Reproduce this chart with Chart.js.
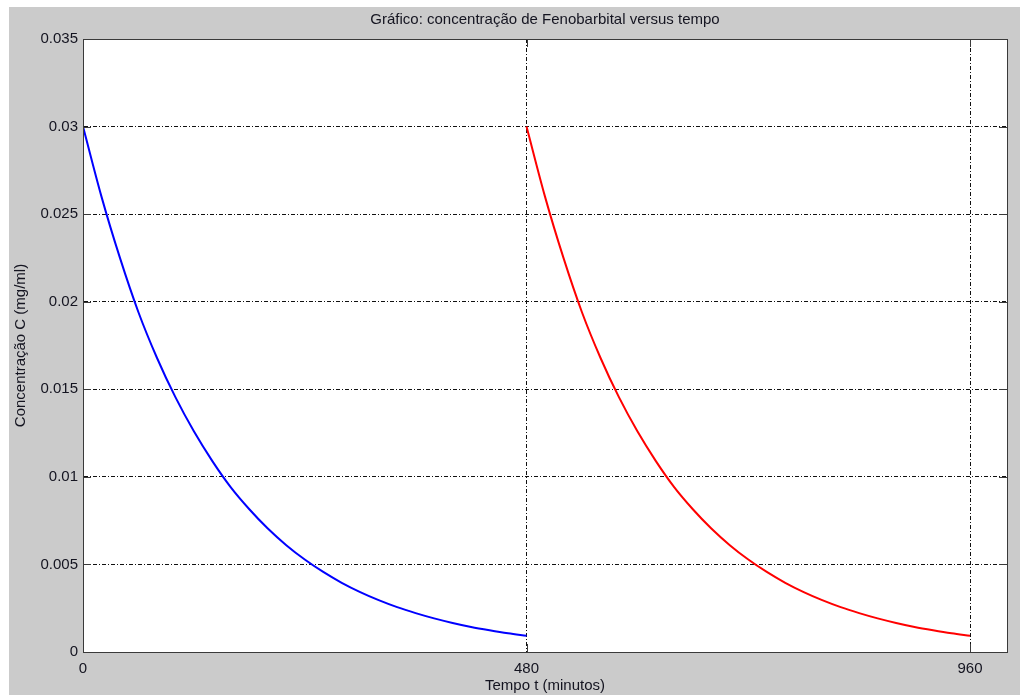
<!DOCTYPE html>
<html>
<head>
<meta charset="utf-8">
<script src="https://cdn.jsdelivr.net/npm/chart.js@4"></script>
<style>
  html, body { margin: 0; padding: 0; background: #ffffff; }
  #wrap { width: 1020px; height: 695px; position: relative; }
</style>
</head>
<body>
<div id="wrap"><canvas id="c" width="1020" height="695"></canvas></div>
<script>
// ---- data ----
const chartTitle = "Gráfico: concentração de Fenobarbital versus tempo";
const xTitle = "Tempo t (minutos)";
const yTitle = "Concentração C (mg/ml)";

const xTickValues = [0, 480, 960];
const yTickValues = [0, 0.005, 0.01, 0.015, 0.02, 0.025, 0.03, 0.035];

const timeDose1 = [0, 20, 40, 60, 80, 100, 120, 140, 160, 180, 200, 220, 240, 260, 280, 300, 320, 340, 360, 380, 400, 420, 440, 460, 480];
const concDose1 = [0.0300, 0.0260, 0.0225, 0.0194, 0.0168, 0.01455, 0.0126, 0.0109, 0.0094, 0.00815, 0.00705, 0.0061, 0.00528, 0.00457, 0.00395, 0.00342, 0.00296, 0.00256, 0.00222, 0.00192, 0.00166, 0.00143, 0.00124, 0.00107, 0.00093];

const timeDose2 = [480, 500, 520, 540, 560, 580, 600, 620, 640, 660, 680, 700, 720, 740, 760, 780, 800, 820, 840, 860, 880, 900, 920, 940, 960];
const concDose2 = [0.0300, 0.0260, 0.0225, 0.0194, 0.0168, 0.01455, 0.0126, 0.0109, 0.0094, 0.00815, 0.00705, 0.0061, 0.00528, 0.00457, 0.00395, 0.00342, 0.00296, 0.00256, 0.00222, 0.00192, 0.00166, 0.00143, 0.00124, 0.00107, 0.00093];

const FONT = "'Liberation Sans', Arial, sans-serif";
const TEXT = '#141420';
const GRID = '#111111';
const DASH = [4, 2, 1, 2];

const pts = (xs, ys) => xs.map((x, i) => ({ x: x, y: ys[i] }));

const bgPlugin = {
  id: 'bg',
  beforeDraw(chart) {
    const ctx = chart.ctx;
    ctx.save();
    ctx.fillStyle = '#ffffff';
    ctx.fillRect(0, 0, chart.width, chart.height);
    ctx.fillStyle = '#cbcbcb';
    ctx.fillRect(9, 7, chart.width - 9, chart.height - 7);
    const a = chart.chartArea;
    ctx.fillStyle = '#ffffff';
    ctx.fillRect(a.left, a.top, a.right - a.left, a.bottom - a.top);
    ctx.restore();
  },
  afterDraw(chart) {
    const ctx = chart.ctx;
    const a = chart.chartArea;
    ctx.save();
    // box
    ctx.strokeStyle = '#3a3a3a';
    ctx.lineWidth = 1;
    ctx.strokeRect(Math.round(a.left) + 0.5, Math.round(a.top) + 0.5, Math.round(a.right - a.left), Math.round(a.bottom - a.top));
    // inward tick marks
    const xs = chart.scales.x, ys = chart.scales.y;
    const tl = 8;
    ctx.beginPath();
    yTickValues.forEach(v => {
      const y = Math.round(ys.getPixelForValue(v)) + 0.5;
      ctx.moveTo(a.left, y); ctx.lineTo(a.left + tl, y);
      ctx.moveTo(a.right, y); ctx.lineTo(a.right - tl, y);
    });
    xTickValues.forEach(v => {
      const x = Math.round(xs.getPixelForValue(v)) + 0.5;
      ctx.moveTo(x, a.bottom); ctx.lineTo(x, a.bottom - tl);
      ctx.moveTo(x, a.top); ctx.lineTo(x, a.top + tl);
    });
    ctx.stroke();
    // title
    ctx.fillStyle = TEXT;
    ctx.font = '15px ' + FONT;
    ctx.textAlign = 'center';
    ctx.textBaseline = 'middle';
    ctx.fillText(chartTitle, (a.left + a.right) / 2, 20);
    ctx.restore();
  }
};

new Chart(document.getElementById('c'), {
  type: 'line',
  data: {
    datasets: [
      {
        label: 'dose 1',
        data: pts(timeDose1, concDose1),
        borderColor: '#0000ff',
        borderWidth: 2,
        pointRadius: 0,
        cubicInterpolationMode: 'monotone',
        fill: false
      },
      {
        label: 'dose 2',
        data: pts(timeDose2, concDose2),
        borderColor: '#ff0000',
        borderWidth: 2,
        pointRadius: 0,
        cubicInterpolationMode: 'monotone',
        fill: false
      }
    ]
  },
  options: {
    responsive: false,
    animation: false,
    layout: { padding: { top: 39, right: 13, left: 0, bottom: 0 } },
    plugins: {
      legend: { display: false },
      tooltip: { enabled: false },
      title: { display: false }
    },
    scales: {
      x: {
        type: 'linear',
        min: 0,
        max: 1000,
        afterBuildTicks: s => { s.ticks = xTickValues.map(v => ({ value: v })); },
        afterFit: s => { s.height = 43; },
        ticks: {
          color: TEXT,
          font: { family: FONT, size: 15 },
          padding: 8,
          maxRotation: 0,
          callback: v => String(v)
        },
        grid: {
          color: c => (c.tick && (c.tick.value === 480 || c.tick.value === 960)) ? GRID : 'rgba(0,0,0,0)',
          drawTicks: false,
          lineWidth: 1
        },
        border: { display: true, color: '#3a3a3a', dash: DASH },
        title: {
          display: true,
          text: xTitle,
          color: TEXT,
          font: { family: FONT, size: 15 },
          padding: { top: 0, bottom: 0 }
        }
      },
      y: {
        type: 'linear',
        min: 0,
        max: 0.035,
        afterBuildTicks: s => { s.ticks = yTickValues.map(v => ({ value: v })); },
        afterFit: s => { s.width = 83; },
        ticks: {
          color: TEXT,
          font: { family: FONT, size: 15 },
          padding: 5,
          callback: v => String(+Number(v).toFixed(3))
        },
        grid: {
          color: c => (c.tick && c.tick.value > 0 && c.tick.value < 0.035) ? GRID : 'rgba(0,0,0,0)',
          drawTicks: false,
          lineWidth: 1
        },
        border: { display: true, color: '#3a3a3a', dash: DASH },
        title: {
          display: true,
          text: yTitle,
          color: TEXT,
          font: { family: FONT, size: 15 },
          padding: { top: 12, bottom: 0 }
        }
      }
    }
  },
  plugins: [bgPlugin]
});
</script>
</body>
</html>
